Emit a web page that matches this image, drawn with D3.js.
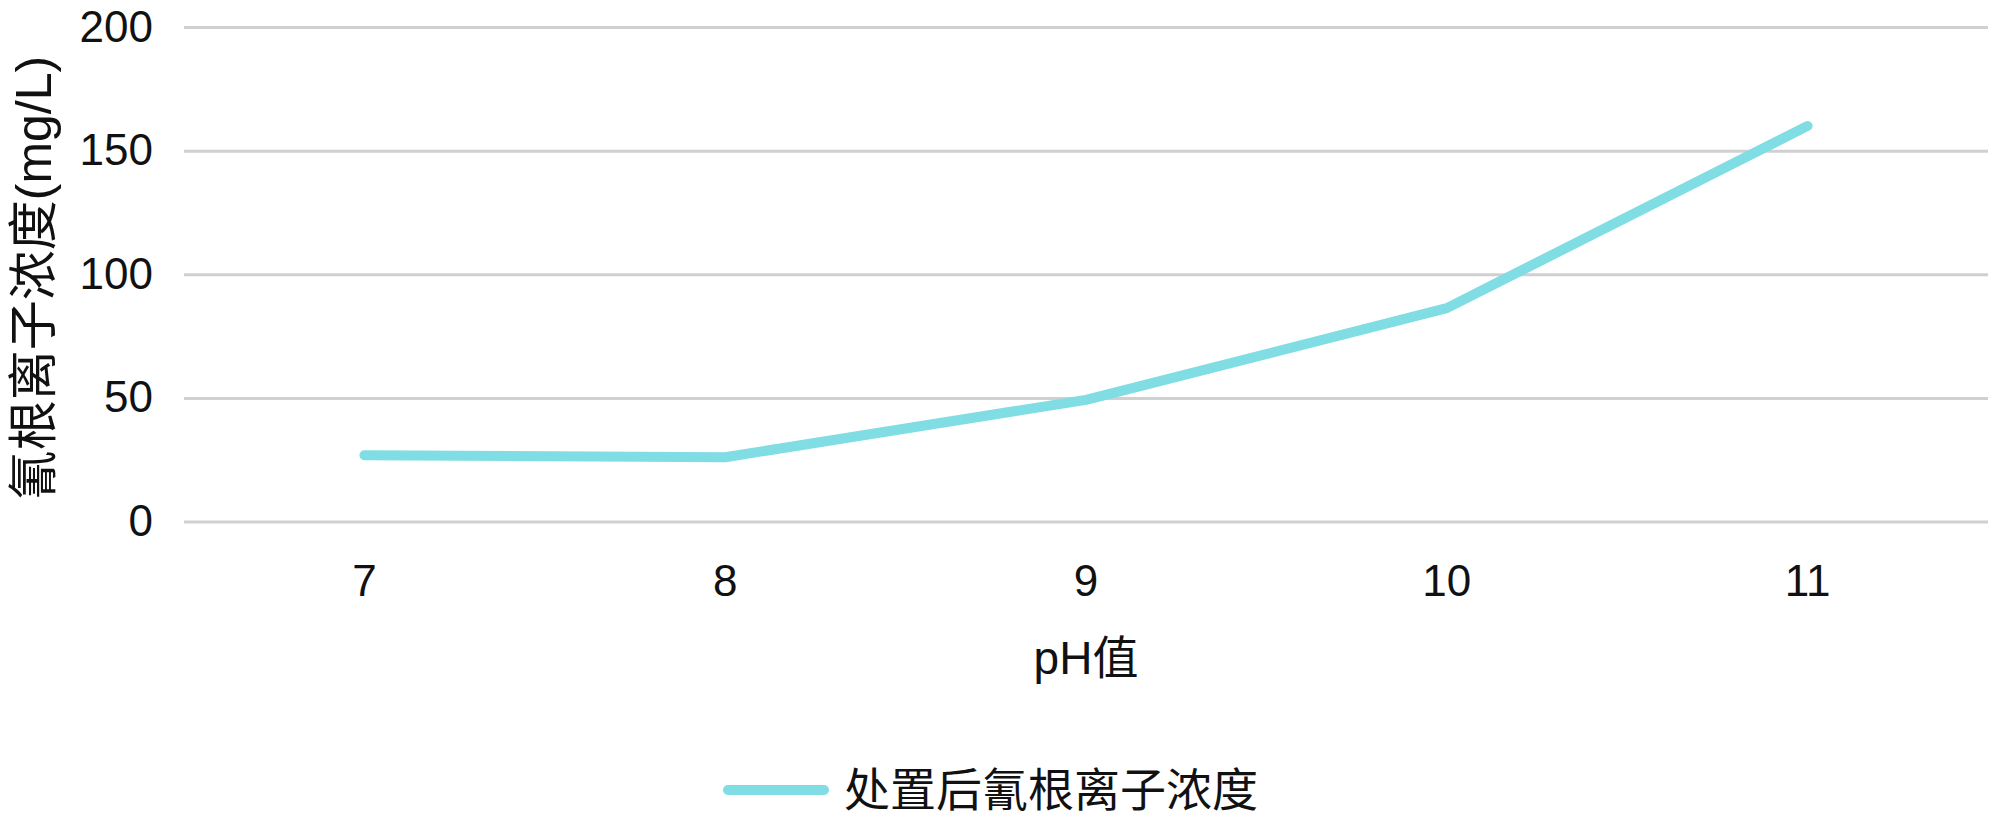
<!DOCTYPE html>
<html>
<head>
<meta charset="utf-8">
<script src="https://cdn.jsdelivr.net/npm/d3@7"></script>
<style>
  body { margin: 0; background: #fff; }
  svg text { font-family: "Liberation Sans", Arial, "Noto Sans CJK SC", sans-serif; fill: #111; }
</style>
</head>
<body>
<div id="chart"></div>
<script>
// data
const phValues = ["7", "8", "9", "10", "11"];
const cyanide = [26.8, 26.0, 49.2, 86.3, 160];
const yTicks = [0, 50, 100, 150, 200];
const seriesName = "处置后氰根离子浓度";
const xTitle = "pH值";
const yTitle = "氰根离子浓度(mg/L)";

const width = 2000, height = 816;
const mLeft = 184, mRight = 1988, mTop = 27, mBottom = 521.5;

const svg = d3.select("#chart").append("svg")
  .attr("width", width).attr("height", height);

const x = d3.scaleBand().domain(phValues).range([mLeft, mRight]).padding(0);
const y = d3.scaleLinear().domain([0, 200]).range([mBottom, mTop]);

// gridlines + y labels
const yAxis = svg.append("g")
  .attr("transform", `translate(${mLeft},0)`)
  .call(d3.axisLeft(y).tickValues(yTicks).tickSize(-(mRight - mLeft)).tickPadding(31));
yAxis.select(".domain").remove();
yAxis.selectAll(".tick line").attr("stroke", "#d0d0d0").attr("stroke-width", 3);
yAxis.selectAll(".tick text").attr("font-size", 44).attr("fill", "#111");

// x labels
const xAxis = svg.append("g")
  .attr("transform", `translate(0,${mBottom})`)
  .call(d3.axisBottom(x).tickSize(0).tickPadding(43));
xAxis.select(".domain").remove();
xAxis.selectAll(".tick text").attr("font-size", 44).attr("fill", "#111");

// series line
const line = d3.line()
  .x((d, i) => x(phValues[i]) + x.bandwidth() / 2)
  .y(d => y(d));

svg.append("path")
  .datum(cyanide)
  .attr("d", line)
  .attr("fill", "none")
  .attr("stroke", "#7fdde3")
  .attr("stroke-width", 10)
  .attr("stroke-linecap", "round")
  .attr("stroke-linejoin", "round");

// axis titles
svg.append("text")
  .attr("x", (mLeft + mRight) / 2).attr("y", 674)
  .attr("text-anchor", "middle")
  .attr("font-size", 46)
  .text(xTitle);

svg.append("text")
  .attr("transform", `translate(34,278) rotate(-90)`)
  .attr("text-anchor", "middle")
  .attr("dominant-baseline", "central")
  .attr("font-size", 50)
  .text(yTitle);

// legend
const lg = svg.append("g").attr("transform", "translate(728,790)");
lg.append("line")
  .attr("x1", 0).attr("x2", 96)
  .attr("stroke", "#7fdde3").attr("stroke-width", 10)
  .attr("stroke-linecap", "round");
lg.append("text")
  .attr("x", 116).attr("y", 0)
  .attr("dominant-baseline", "central")
  .attr("font-size", 46)
  .text(seriesName);
</script>
</body>
</html>
